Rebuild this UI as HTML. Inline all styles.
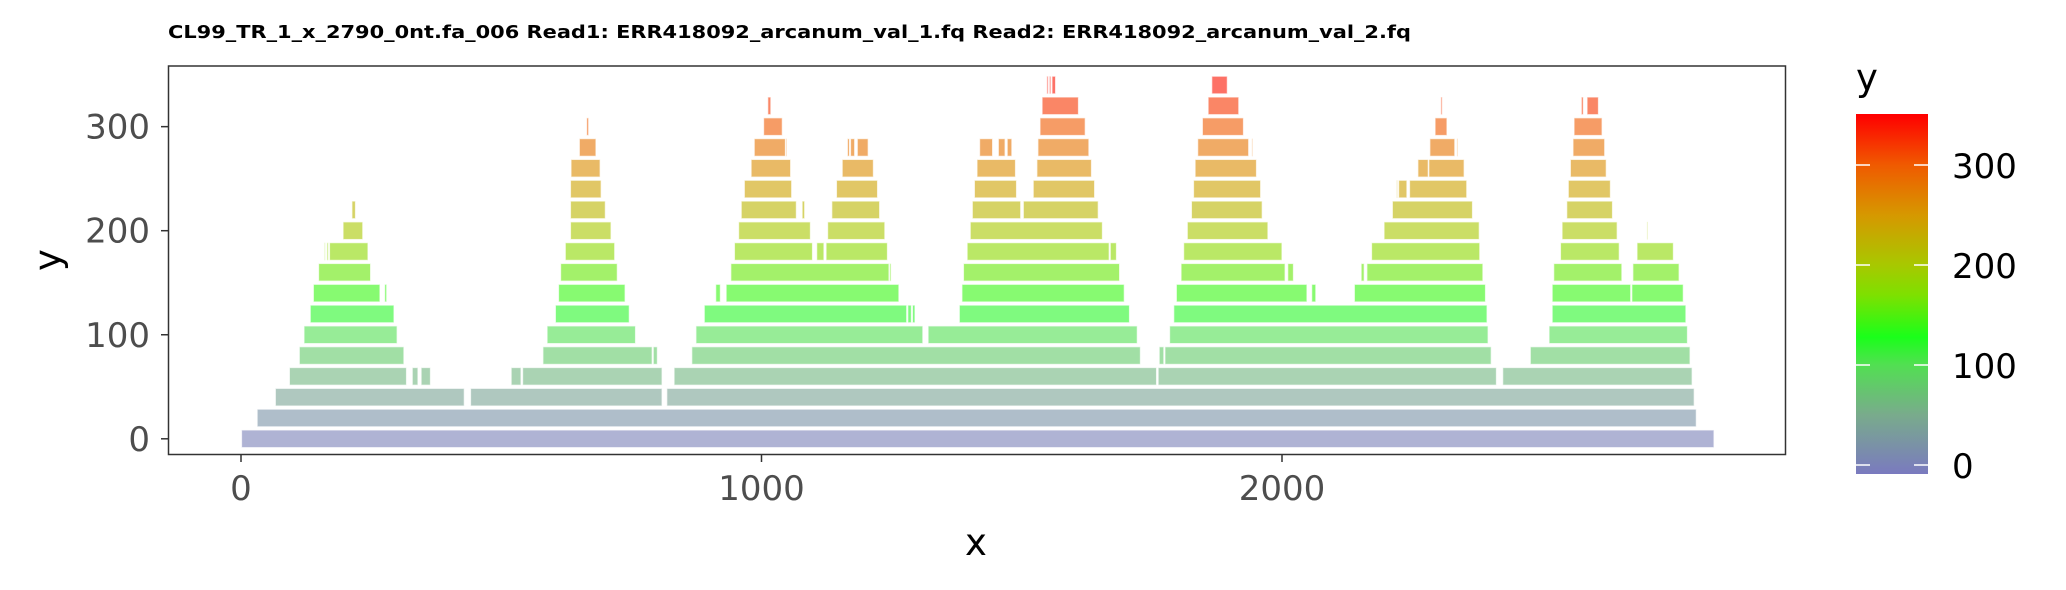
<!DOCTYPE html>
<html><head><meta charset="utf-8"><style>
body{margin:0;background:#fff}
svg{display:block;font-family:"DejaVu Sans","Liberation Sans",sans-serif}
</style></head><body>
<svg id="chart" width="2066" height="590" viewBox="0 0 2066 590" xmlns="http://www.w3.org/2000/svg">
<defs>
<linearGradient id="cbgrad" x1="0" y1="1" x2="0" y2="0">
</linearGradient>
</defs>
<text x="168" y="38" font-size="18" font-weight="bold" textLength="1243" lengthAdjust="spacingAndGlyphs">CL99_TR_1_x_2790_0nt.fa_006 Read1: ERR418092_arcanum_val_1.fq Read2: ERR418092_arcanum_val_2.fq</text>
<g id="bars"></g>
<rect x="168.5" y="66" width="1617" height="388.5" fill="none" stroke="#333" stroke-width="1.5"/>
<g id="axes"></g>
<text x="976" y="555" font-size="37" text-anchor="middle">x</text>
<text transform="translate(60,260) rotate(-90)" font-size="37" text-anchor="middle">y</text>
<g id="legend">
<text x="1856" y="90" font-size="37">y</text>
<rect x="1856" y="114" width="72" height="360" fill="url(#cbgrad)"/>
</g>
</svg>
<script>
const rowY = [0,20,40,60,80,100,120,140,160,180,200,220,240,260,280,300,320,340];
const rowSegs = [
 [[1,2830]],
 [[31,2796]],
 [[66,429],[441,809],[818,2792]],
 [[93,318],[329,340],[346,364],[519,538],[541,809],[832,1759],[1762,2412],[2424,2788]],
 [[112,313],[580,790],[792,800],[866,1728],[1764,1773],[1775,2402],[2477,2784]],
 [[121,300],[588,758],[874,1310],[1320,1722],[1784,2396],[2513,2779]],
 [[133,294],[604,746],[890,1279],[1281,1288],[1290,1295],[1380,1707],[1792,2394],[2519,2776]],
 [[139,267],[276,280],[610,738],[912,921],[932,1264],[1385,1697],[1797,2048],[2057,2065],[2139,2391],[2519,2670],[2672,2771]],
 [[149,249],[614,723],[941,1245],[1246,1249],[1388,1688],[1806,2006],[2011,2022],[2152,2158],[2163,2386],[2522,2653],[2674,2763]],
 [[160,162],[165,168],[170,244],[623,718],[948,1098],[1106,1120],[1124,1242],[1395,1668],[1670,1682],[1811,2000],[2172,2380],[2535,2648],[2682,2752]],
 [[196,234],[633,711],[956,1094],[1127,1237],[1401,1655],[1818,1973],[2196,2379],[2538,2644],[2701,2703]],
 [[213,220],[633,700],[961,1067],[1078,1083],[1135,1227],[1405,1498],[1503,1647],[1826,1962],[2212,2366],[2547,2635]],
 [[633,692],[967,1058],[1144,1223],[1409,1490],[1522,1640],[1830,1959],[2220,2222],[2224,2240],[2245,2355],[2550,2631]],
 [[634,690],[980,1056],[1155,1215],[1414,1488],[1529,1634],[1833,1951],[2261,2281],[2282,2350],[2554,2623]],
 [[650,682],[986,1046],[1047,1049],[1165,1169],[1171,1179],[1184,1205],[1419,1444],[1455,1468],[1472,1481],[1531,1629],[1838,1936],[1942,1944],[2284,2332],[2336,2338],[2559,2620]],
 [[664,668],[1004,1040],[1535,1622],[1847,1926],[2294,2317],[2561,2615]],
 [[1012,1018],[1539,1609],[1858,1917],[2305,2308],[2575,2579],[2586,2608]],
 [[1548,1551],[1553,1556],[1558,1565],[1865,1895]]
];
const xTicks = [0,1000,2000];
const yTicks = [0,100,200,300];
const cbTicks = [0,100,200,300];
const colorStopVals = [-9,50,100,128,170,200,250,300,350];
const colorStopCols = ["#7a7abf","#79ab8c","#52df52","#1aff1a","#7ee000","#a8c800","#d69800","#f05a00","#ff0000"];

const NS="http://www.w3.org/2000/svg";
const xs = v => 241 + v*0.5205;
const ys = v => 438.8 - v*1.0405;
const cbY = v => 465 - v*1.0;
function hex(c){return [1,3,5].map(i=>parseInt(c.substr(i,2),16));}
function colorAt(v){
  if(v<=colorStopVals[0]) return colorStopCols[0];
  for(let i=1;i<colorStopVals.length;i++){
    if(v<=colorStopVals[i]){
      const t=(v-colorStopVals[i-1])/(colorStopVals[i]-colorStopVals[i-1]);
      const a=hex(colorStopCols[i-1]), b=hex(colorStopCols[i]);
      return "rgb("+a.map((x,k)=>Math.round(x+(b[k]-x)*t)).join(",")+")";
    }
  }
  return colorStopCols[colorStopCols.length-1];
}
function mk(tag,attrs,parent){const e=document.createElementNS(NS,tag);for(const k in attrs)e.setAttribute(k,attrs[k]);parent.appendChild(e);return e;}

const bars=document.getElementById('bars');
rowY.forEach((yv,ri)=>{
  rowSegs[ri].forEach(seg=>{
    const r=mk('rect',{x:xs(seg[0]),y:ys(yv+8.5),width:Math.max(1,xs(seg[1])-xs(seg[0])),height:ys(yv-8.5)-ys(yv+8.5),fill:colorAt(yv),'fill-opacity':0.6,stroke:'#fff','stroke-opacity':0.7,'stroke-width':1.2},bars);
    
    
  });
});

const axes=document.getElementById('axes');
xTicks.forEach(t=>{
  const l=mk('line',{x1:xs(t),x2:xs(t),y1:454.5,y2:462,stroke:'#333','stroke-width':1.5},axes);
  
  
  const tx=mk('text',{x:xs(t),y:500,'font-size':34,'text-anchor':'middle',fill:'#4d4d4d'},axes);
  tx.textContent=t;
  
  
});
yTicks.forEach(t=>{
  const l=mk('line',{x1:161,x2:168.5,y1:ys(t),y2:ys(t),stroke:'#333','stroke-width':1.5},axes);
  
  
  const tx=mk('text',{x:150,y:ys(t)+12,'font-size':34,'text-anchor':'end',fill:'#4d4d4d'},axes);
  tx.textContent=t;
  
  
});

const grad=document.getElementById('cbgrad');
colorStopVals.forEach((v,i)=>{
  const off=(v-(-9))/(351-(-9));
  mk('stop',{offset:Math.min(1,Math.max(0,off)),'stop-color':colorStopCols[i]},grad);
});
const legend=document.getElementById('legend');
cbTicks.forEach(t=>{
  const y=cbY(t);
  const a=mk('line',{x1:1856,x2:1870,y1:y,y2:y,stroke:'#fff','stroke-width':1.5},legend);
  
  
  const b=mk('line',{x1:1914,x2:1928,y1:y,y2:y,stroke:'#fff','stroke-width':1.5},legend);
  
  
  const tx=mk('text',{x:1952,y:y+13,'font-size':34,fill:'#000'},legend);
  tx.textContent=t;
  
  
});
</script>
</body></html>
